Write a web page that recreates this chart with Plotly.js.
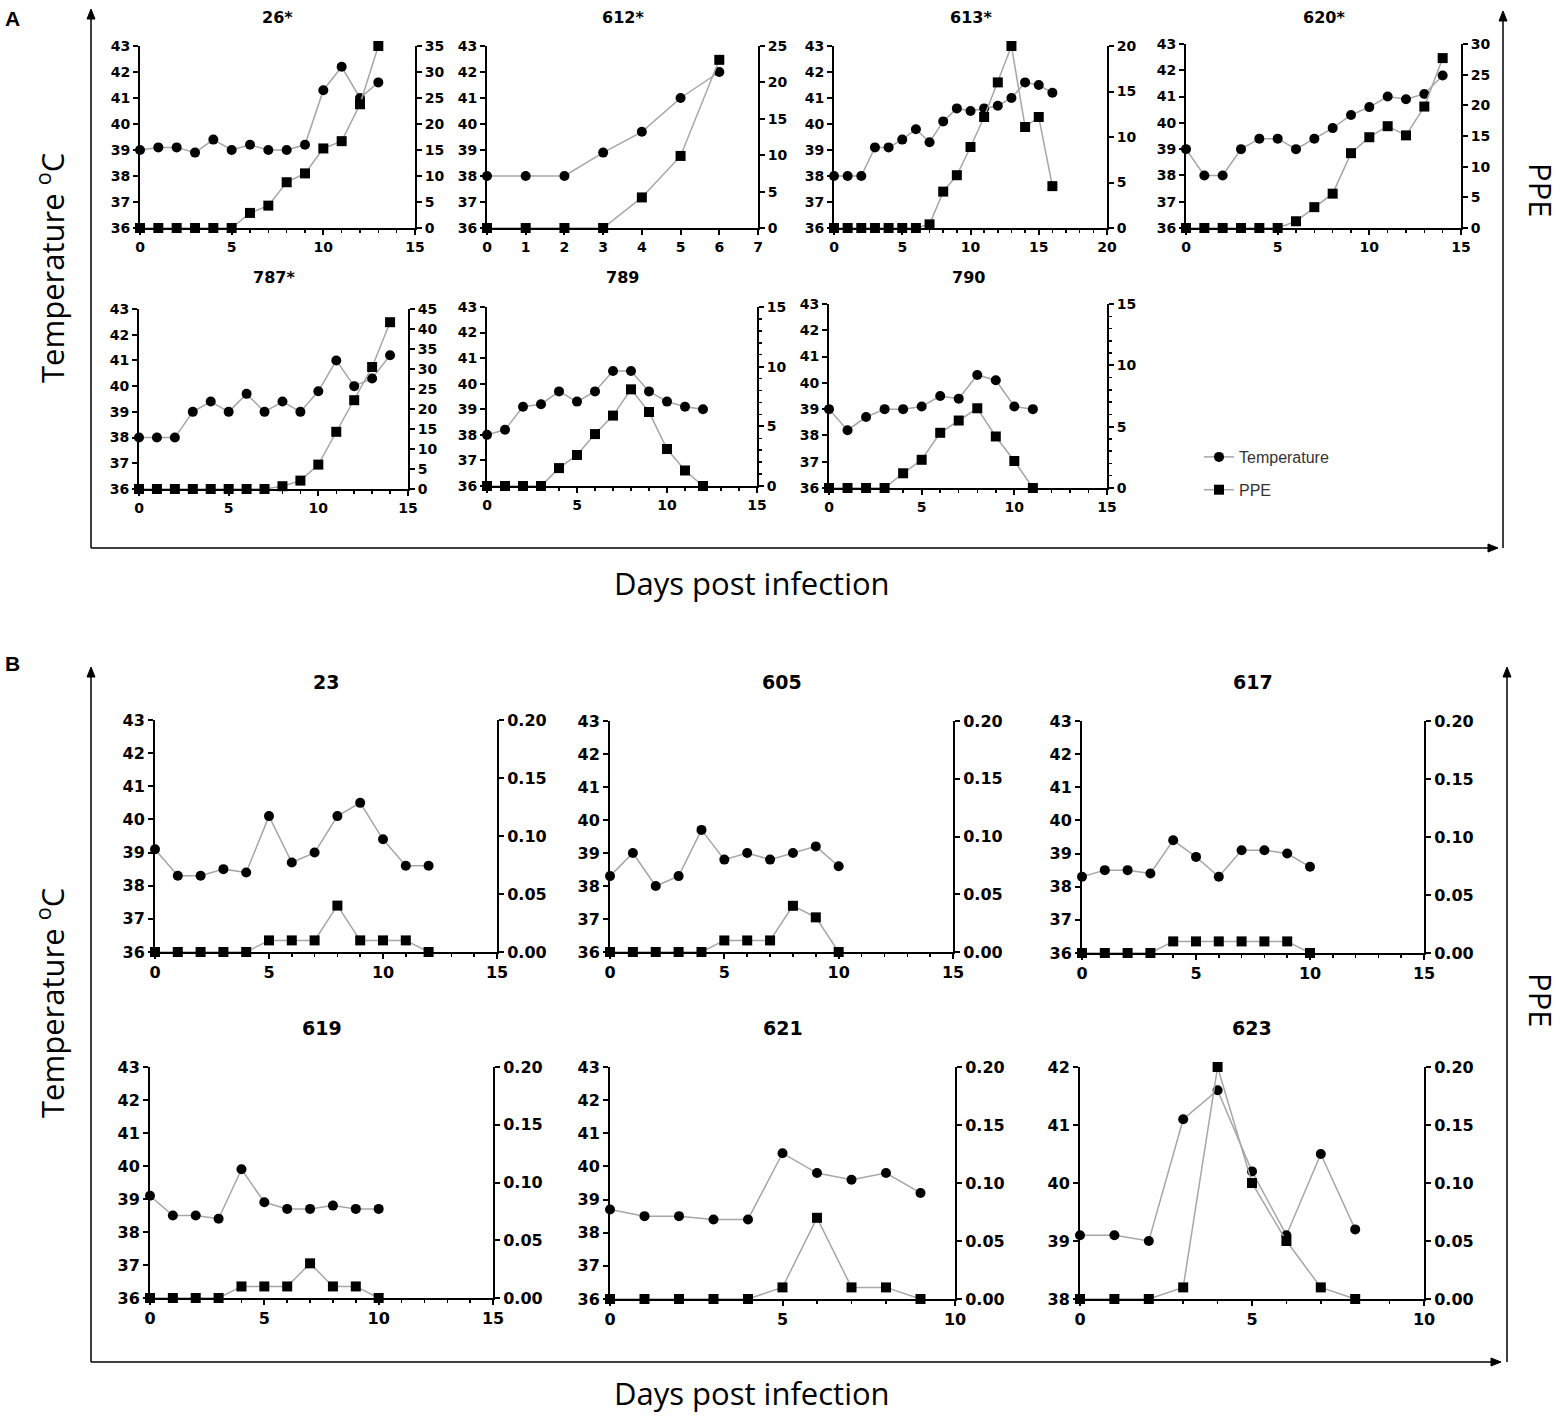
<!DOCTYPE html>
<html>
<head>
<meta charset="utf-8">
<script src="https://cdn.plot.ly/plotly-3.0.1.min.js"></script>
<style>body{margin:0;background:#fff}</style>
</head>
<body>
<div id="chart" style="width:1563px;height:1418px"></div>
<script>
// values (temperature on the left axis, PPE on the right)
const days26 = [0,1,2,3,4,5,6,7,8,9,10,11,12,13];
const temp26 = [39,39.1,39.1,38.9,39.4,39,39.2,39,39,39.2,41.3,42.2,41,41.6];
const ppe26  = [0,0,0,0,0,0,2.9,4.3,8.8,10.5,15.3,16.7,23.8,35];

const days612 = [0,1,2,3,4,5,6];
const temp612 = [38,38,38,38.9,39.7,41,42];
const ppe612  = [0,0,0,0,4.2,9.9,23.1];

const days613 = [0,1,2,3,4,5,6,7,8,9,10,11,12,13,14,15,16];
const temp613 = [38,38,38,39.1,39.1,39.4,39.8,39.3,40.1,40.6,40.5,40.6,40.7,41,41.6,41.5,41.2];
const ppe613  = [0,0,0,0,0,0,0,0.4,4,5.8,8.9,12.2,16,20,11.1,12.2,4.6];

const days620 = [0,1,2,3,4,5,6,7,8,9,10,11,12,13,14];
const temp620 = [39,38,38,39,39.4,39.4,39,39.4,39.8,40.3,40.6,41,40.9,41.1,41.8];
const ppe620  = [0,0,0,0,0,0,1.1,3.4,5.6,12.2,14.8,16.6,15.1,19.8,27.7];

const days787 = [0,1,2,3,4,5,6,7,8,9,10,11,12,13,14];
const temp787 = [38,38,38,39,39.4,39,39.7,39,39.4,39,39.8,41,40,40.3,41.2];
const ppe787  = [0,0,0,0,0,0,0,0,0.7,2.1,6.1,14.3,22.2,30.5,41.7];

const days789 = [0,1,2,3,4,5,6,7,8,9,10,11,12];
const temp789 = [38,38.2,39.1,39.2,39.7,39.3,39.7,40.5,40.5,39.7,39.3,39.1,39];
const ppe789  = [0,0,0,0,1.5,2.6,4.35,5.9,8.1,6.2,3.1,1.3,0];

const days790 = [0,1,2,3,4,5,6,7,8,9,10,11];
const temp790 = [39,38.2,38.7,39,39,39.1,39.5,39.4,40.3,40.1,39.1,39];
const ppe790  = [0,0,0,0,1.2,2.3,4.5,5.5,6.5,4.2,2.2,0];

const days23 = [0,1,2,3,4,5,6,7,8,9,10,11,12];
const temp23 = [39.1,38.3,38.3,38.5,38.4,40.1,38.7,39,40.1,40.5,39.4,38.6,38.6];
const ppe23  = [0,0,0,0,0,0.01,0.01,0.01,0.04,0.01,0.01,0.01,0];

const days605 = [0,1,2,3,4,5,6,7,8,9,10];
const temp605 = [38.3,39,38,38.3,39.7,38.8,39,38.8,39,39.2,38.6];
const ppe605  = [0,0,0,0,0,0.01,0.01,0.01,0.04,0.03,0];

const days617 = [0,1,2,3,4,5,6,7,8,9,10];
const temp617 = [38.3,38.5,38.5,38.4,39.4,38.9,38.3,39.1,39.1,39,38.6];
const ppe617  = [0,0,0,0,0.01,0.01,0.01,0.01,0.01,0.01,0];

const days619 = [0,1,2,3,4,5,6,7,8,9,10];
const temp619 = [39.1,38.5,38.5,38.4,39.9,38.9,38.7,38.7,38.8,38.7,38.7];
const ppe619  = [0,0,0,0,0.01,0.01,0.01,0.03,0.01,0.01,0];

const days621 = [0,1,2,3,4,5,6,7,8,9];
const temp621 = [38.7,38.5,38.5,38.4,38.4,40.4,39.8,39.6,39.8,39.2];
const ppe621  = [0,0,0,0,0,0.01,0.07,0.01,0.01,0];

const days623 = [0,1,2,3,4,5,6,7,8];
const temp623 = [39.1,39.1,39,41.1,41.6,40.2,39.1,40.5,39.2];
const ppe623  = [0,0,0,0.01,0.2,0.1,0.05,0.01,0];

const W = 1563, H = 1418;
const px = v => v / W;
const py = v => 1 - v / H;

// box = [left, right, top, bottom] in pixels
const panels = [
  {title:'26*',  x:days26,  t:temp26,  p:ppe26,  box:[140,415,46,228],  xmax:15, xdt:5, xminor:true,  tr:[36,43], pmax:35, pdt:5},
  {title:'612*', x:days612, t:temp612, p:ppe612, box:[487,758,46,228],  xmax:7,  xdt:1, xminor:false, tr:[36,43], pmax:25, pdt:5},
  {title:'613*', x:days613, t:temp613, p:ppe613, box:[834,1107,46,228], xmax:20, xdt:5, xminor:true,  tr:[36,43], pmax:20, pdt:5},
  {title:'620*', x:days620, t:temp620, p:ppe620, box:[1186,1461,44,228],xmax:15, xdt:5, xminor:true,  tr:[36,43], pmax:30, pdt:5},
  {title:'787*', x:days787, t:temp787, p:ppe787, box:[139,408,309,489], xmax:15, xdt:5, xminor:true,  tr:[36,43], pmax:45, pdt:5},
  {title:'789',  x:days789, t:temp789, p:ppe789, box:[487,757,307,486], xmax:15, xdt:5, xminor:true,  tr:[36,43], pmax:15, pdt:5, pminor:true},
  {title:'790',  x:days790, t:temp790, p:ppe790, box:[829,1107,304,488],xmax:15, xdt:5, xminor:true,  tr:[36,43], pmax:15, pdt:5, pminor:true},
  {title:'23',   x:days23,  t:temp23,  p:ppe23,  box:[155,497,720,952], xmax:15, xdt:5, xminor:true,  tr:[36,43], pmax:0.2, pdt:0.05, B:true},
  {title:'605',  x:days605, t:temp605, p:ppe605, box:[610,953,721,952], xmax:15, xdt:5, xminor:true,  tr:[36,43], pmax:0.2, pdt:0.05, B:true},
  {title:'617',  x:days617, t:temp617, p:ppe617, box:[1082,1424,721,953],xmax:15,xdt:5, xminor:true,  tr:[36,43], pmax:0.2, pdt:0.05, B:true},
  {title:'619',  x:days619, t:temp619, p:ppe619, box:[150,493,1067,1298],xmax:15,xdt:5, xminor:true,  tr:[36,43], pmax:0.2, pdt:0.05, B:true},
  {title:'621',  x:days621, t:temp621, p:ppe621, box:[610,955,1067,1299],xmax:10,xdt:5, xminor:true,  tr:[36,43], pmax:0.2, pdt:0.05, B:true},
  {title:'623',  x:days623, t:temp623, p:ppe623, box:[1080,1424,1067,1299],xmax:10,xdt:5,xminor:true,  tr:[38,42], pmax:0.2, pdt:0.05, B:true}
];

const boldFam = 'DejaVu Sans, Liberation Sans, Arial, sans-serif';
const tickFont = b => ({family:boldFam, size: b ? 16 : 14, color:'#000', weight:'bold'});
const axisBase = {
  showline:true, linecolor:'#000', linewidth:2, ticks:'outside', ticklen:5, tickwidth:2,
  tickcolor:'#000', showgrid:false, zeroline:false, layer:'below traces', fixedrange:true
};
const minorTicks = {ticks:'outside', ticklen:3, tickwidth:1.5, tickcolor:'#000', showgrid:false, dtick:1};

const data = [];
const layout = {
  width:W, height:H, margin:{l:0,r:0,t:0,b:0},
  paper_bgcolor:'#fff', plot_bgcolor:'rgba(0,0,0,0)',
  showlegend:true,
  legend:{x:px(1199), y:py(440), xanchor:'left', yanchor:'top', bgcolor:'rgba(0,0,0,0)',
          font:{family:'Liberation Sans, Arial, sans-serif', size:16, color:'#333'},
          traceorder:'grouped', tracegroupgap:9},
  annotations:[],
  shapes:[]
};

panels.forEach((pn, i) => {
  const xn = i === 0 ? '' : String(i + 1);
  const yl = 2 * i + 1, yr = 2 * i + 2;
  const yln = yl === 1 ? '' : String(yl);
  const [L, R, T, Bt] = pn.box;

  data.push({
    x: pn.x, y: pn.t, xaxis:'x' + xn, yaxis:'y' + yln, name:'Temperature',
    mode:'lines+markers', cliponaxis:false,
    line:{color:'#a6a6a6', width:1.5},
    marker:{symbol:'circle', size:10, color:'#000'},
    legendgroup:'temp', showlegend: i === 0, hoverinfo:'skip'
  });
  data.push({
    x: pn.x, y: pn.p, xaxis:'x' + xn, yaxis:'y' + yr, name:'PPE',
    mode:'lines+markers', cliponaxis:false,
    line:{color:'#a6a6a6', width:1.5},
    marker:{symbol:'square', size:10, color:'#000'},
    legendgroup:'ppe', showlegend: i === 0, hoverinfo:'skip'
  });

  layout['xaxis' + xn] = Object.assign({}, axisBase, {
    domain:[px(L), px(R)], range:[0, pn.xmax], anchor:'y' + yln,
    tick0:0, dtick:pn.xdt, tickfont:tickFont(pn.B),
    minor: pn.xminor ? minorTicks : {ticks:''}
  });
  layout['yaxis' + yln] = Object.assign({}, axisBase, {
    domain:[py(Bt), py(T)], range:pn.tr, anchor:'x' + xn, side:'left',
    tick0:pn.tr[0], dtick:1, tickfont:tickFont(pn.B)
  });
  layout['yaxis' + yr] = Object.assign({}, axisBase, {
    overlaying:'y' + yln, anchor:'x' + xn, side:'right',
    range:[0, pn.pmax], tick0:0, dtick:pn.pdt, tickfont:tickFont(pn.B),
    tickformat: pn.B ? '.2f' : '',
    minor: pn.pminor ? minorTicks : {ticks:''}
  });

  const titleY = pn.B ? (T < 900 ? 682 : 1028) : (T < 200 ? 18 : 277);
  layout.annotations.push({
    text: pn.title, xref:'paper', yref:'paper', x:px((L + R) / 2), y:py(titleY),
    xanchor:'center', yanchor:'middle', showarrow:false,
    font:{family:boldFam, size: pn.B ? 19 : 16, color:'#000', weight:'bold'}
  });
});

// big frame arrows (line + filled head), pixel coords converted to paper
function arrow(tx, ty, hx, hy) {
  layout.shapes.push({type:'line', xref:'paper', yref:'paper',
    x0:px(tx), y0:py(ty), x1:px(hx), y1:py(hy), line:{color:'#000', width:1.5}});
  const up = hx === tx;
  const pts = up ? [[hx, hy - 1], [hx - 4, hy + 9], [hx + 4, hy + 9]]
                 : [[hx + 1, hy], [hx - 9, hy - 4], [hx - 9, hy + 4]];
  const path = 'M' + pts.map(p => px(p[0]) + ',' + py(p[1])).join(' L') + ' Z';
  layout.shapes.push({type:'path', xref:'paper', yref:'paper', path,
    fillcolor:'#000', line:{color:'#000', width:1}});
}
arrow(91, 548, 91, 10); arrow(91, 548, 1497, 548); arrow(1503, 548, 1503, 12);
arrow(91, 1362, 91, 668); arrow(91, 1362, 1500, 1362); arrow(1507, 1362, 1507, 668);

const labelFont = {family:'Open Sans, Noto Sans, sans-serif', size:31, color:'#000'};
const label = (text, x, y, angle) => ({
  text, xref:'paper', yref:'paper', x:px(x), y:py(y), xanchor:'center', yanchor:'middle',
  textangle:angle, showarrow:false, font:labelFont
});
layout.annotations.push(
  label('Temperature <sup>o</sup>C', 50, 268, -90),
  label('Temperature <sup>o</sup>C', 50, 1003, -90),
  label('PPE', 1541, 190, 90),
  label('PPE', 1541, 1000, 90),
  label('Days post infection', 752, 583, 0),
  label('Days post infection', 752, 1393, 0),
  {text:'A', xref:'paper', yref:'paper', x:px(12), y:py(19), xanchor:'center', yanchor:'middle', showarrow:false,
   font:{family:'Liberation Sans, Arial, sans-serif', size:21, color:'#000', weight:'bold'}},
  {text:'B', xref:'paper', yref:'paper', x:px(12), y:py(663), xanchor:'center', yanchor:'middle', showarrow:false,
   font:{family:'Liberation Sans, Arial, sans-serif', size:21, color:'#000', weight:'bold'}}
);

Plotly.newPlot('chart', data, layout, {displayModeBar:false, staticPlot:true});
</script>
</body>
</html>
